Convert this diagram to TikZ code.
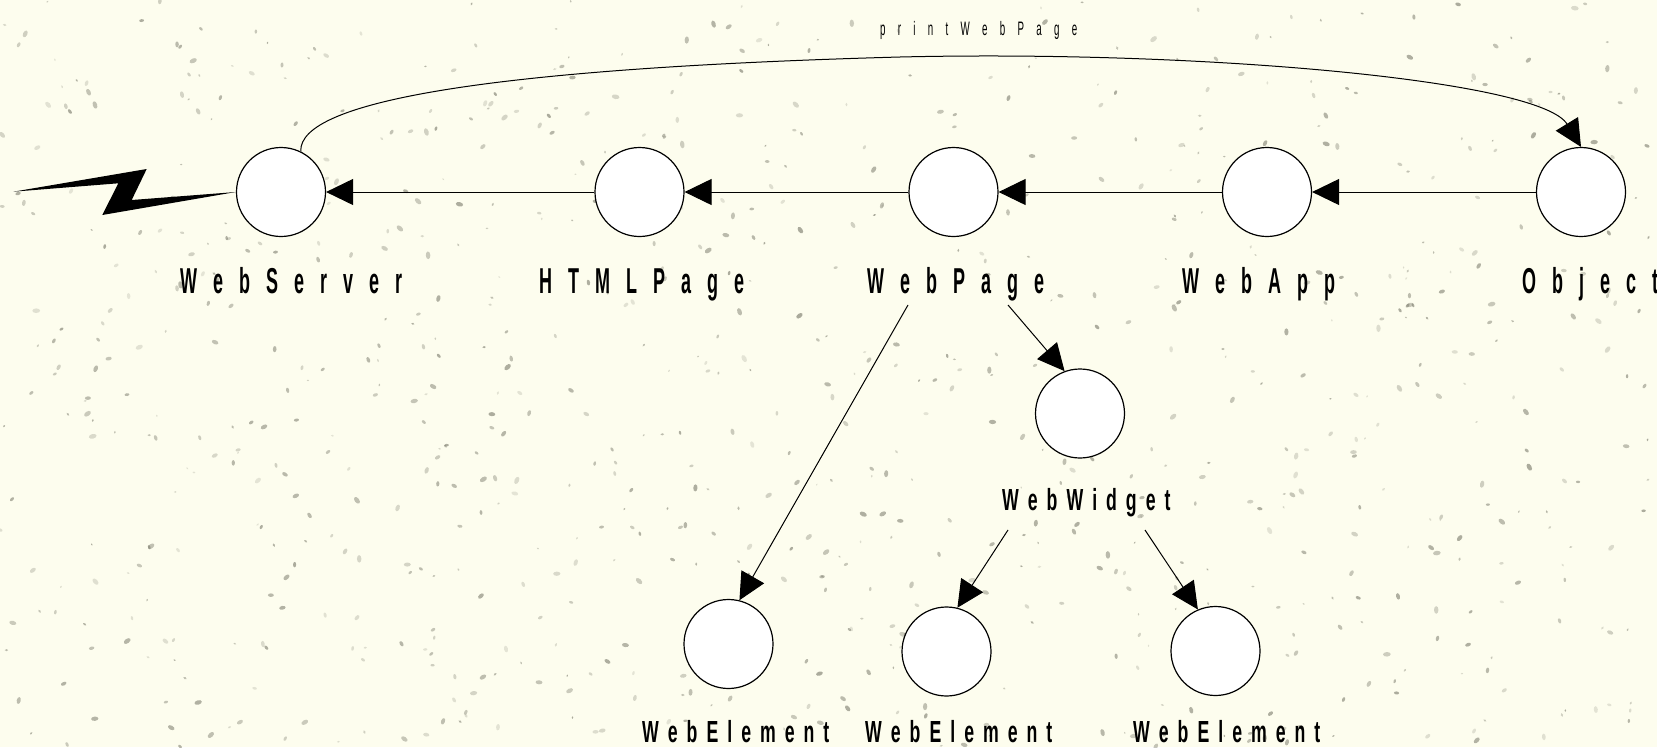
\documentclass[tikz,border=0pt]{standalone}
\usepackage{fontspec}
\usetikzlibrary{arrows.meta}
\newfontfamily\labA{Liberation Sans}[FakeStretch=0.5]
\newfontfamily\labB{Liberation Sans}[FakeStretch=0.58]
\definecolor{bgcol}{RGB}{253,253,238}
\definecolor{speck}{RGB}{135,135,120}
\makeatletter
\def\spaceout#1{\spaceout@a#1\relax}
\def\spaceout@a#1{\ifx#1\relax\else#1\kern\lsp\relax\expandafter\spaceout@a\fi}
\makeatother
\newcommand\lblT[1]{{\def\lsp{16pt}\spaceout{#1}}}
\newcommand\lblB[1]{{\def\lsp{9pt}\spaceout{#1}}}
\newcommand\lblC[1]{{\def\lsp{12.3pt}\spaceout{#1}}}
\tikzset{
  obj/.style={circle, draw, fill=white, line width=1.2pt, minimum size=89pt, inner sep=0pt},
  toplab/.style={anchor=base west, inner sep=0pt, font=\labA\bfseries\fontsize{36}{36}\selectfont},
  lowlab/.style={anchor=base west, inner sep=0pt, font=\labB\bfseries\fontsize{30.5}{30.5}\selectfont},
  msglab/.style={anchor=base west, inner sep=0pt, font=\labA\fontsize{19.5}{19.5}\selectfont},
  arr/.style={line width=1pt, -{Triangle[length=27pt,width=26pt]}},
}
\begin{document}
\begin{tikzpicture}[x=1pt,y=-1pt]
\useasboundingbox (0,0) rectangle (1657,747);
\fill[bgcol] (0,0) rectangle (1657,747);
\pgfmathsetseed{12345}
\foreach \i in {1,...,900}{
  \pgfmathsetmacro\sx{rnd*1657}
  \pgfmathsetmacro\sy{rnd*747}
  \pgfmathsetmacro\sa{rnd*180}
  \pgfmathsetmacro\sr{0.7+rnd*1.6}
  \pgfmathsetmacro\so{0.2+rnd*0.5}
  \fill[speck, opacity=\so, rotate around={\sa:(\sx,\sy)}] (\sx,\sy) ellipse [x radius=1.7*\sr, y radius=\sr];
}
% nodes
\node[obj] (webserver) at (281,192) {};
\node[obj] (htmlpage) at (639.5,192) {};
\node[obj] (webpage) at (953.5,192) {};
\node[obj] (webapp) at (1267,192) {};
\node[obj] (object) at (1581,192) {};
\node[obj] (webwidget) at (1080,413.5) {};
\node[obj] (el1) at (728.5,644) {};
\node[obj] (el2) at (946.5,651.5) {};
\node[obj] (el3) at (1215.5,651) {};
% labels
\node[toplab] (lws) at (180,293) {\lblT{WebServer}};
\node[toplab] (lhp) at (539,293) {\lblT{HTMLPage}};
\node[toplab] (lwp) at (867,293) {\lblT{WebPage}};
\node[toplab] (lwa) at (1182,293) {\lblT{WebApp}};
\node[toplab] (lob) at (1522,293) {\lblT{Object}};
\node[lowlab] (lww) at (1002,510) {\lblB{WebWidget}};
\node[lowlab] (le1) at (642,742) {\lblB{WebElement}};
\node[lowlab] (le2) at (865,742) {\lblB{WebElement}};
\node[lowlab] (le3) at (1133,742) {\lblB{WebElement}};
\node[msglab] (lmsg) at (880,35) {\lblC{printWebPage}};
% lightning
\fill[black] (13.3,191.7) -- (146.7,169) -- (131.7,200) -- (webserver.west) -- (102.3,215) -- (118.3,183.3) -- cycle;
% horizontal connectors
\draw[arr] (htmlpage.west) -- (webserver.east);
\draw[arr] (webpage.west) -- (htmlpage.east);
\draw[arr] (webapp.west) -- (webpage.east);
\draw[arr] (object.west) -- (webapp.east);
% curve
\draw[arr] (webserver.64) .. controls (298,100) and (500,68) .. (900,57) .. controls (1200,50) and (1540,80) .. (object.north);
% diagonal connectors
\coordinate (wpA) at (908,305);
\coordinate (wpB) at (1008,305);
\coordinate (wwA) at (1008,530);
\coordinate (wwB) at (1145,530);
\draw[arr] (wpA) -- (el1.76);
\draw[arr] (wpB) -- (webwidget.110);
\draw[arr] (wwA) -- (el2.76);
\draw[arr] (wwB) -- (el3.113);
\end{tikzpicture}
\end{document}
